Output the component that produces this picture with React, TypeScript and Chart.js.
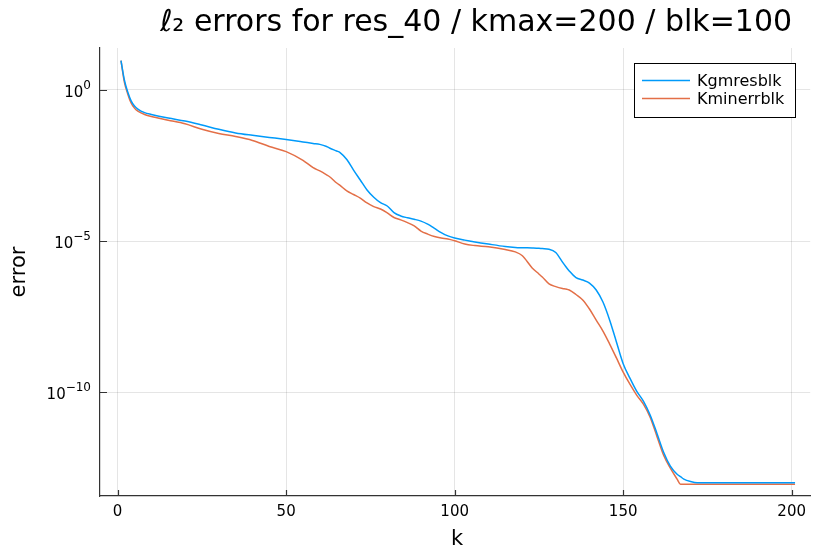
import { useEffect, useRef } from 'react';
import { Chart, registerables } from 'chart.js';

Chart.register(...registerables);

const chartTitle = 'ℓ₂ errors for res_40 / kmax=200 / blk=100';
const xAxisTitle = 'k';
const yAxisTitle = 'error';
const seriesNames = ['Kgmresblk', 'Kminerrblk'];
const seriesColors = ['#009AFA', '#E36F47'];

const kValues = [
  1, 2, 3, 4, 5, 6, 8, 10, 15, 20, 25, 30, 35, 40, 45, 50, 55, 58, 60, 62, 63, 65, 66, 68, 70,
  72, 74, 76, 78, 80, 82, 84, 86, 88, 90, 92, 94, 96, 98, 100, 103, 106, 110, 115, 118, 120,
  123, 125, 126, 128, 130, 132, 133, 134, 136, 138, 140, 142, 144, 146, 148, 150, 152, 154,
  156, 158, 160, 162, 164, 166, 167, 168, 170, 172, 180, 190, 201,
];

// log10 of the error
const kgmresLog10 = [
  0.97, 0.33, -0.07, -0.36, -0.53, -0.63, -0.75, -0.81, -0.93, -1.03, -1.16, -1.3, -1.42, -1.5,
  -1.57, -1.64, -1.72, -1.77, -1.8, -1.87, -1.93, -2.02, -2.07, -2.3, -2.65, -2.98, -3.31, -3.55,
  -3.73, -3.84, -4.06, -4.17, -4.23, -4.28, -4.34, -4.44, -4.58, -4.72, -4.83, -4.9, -4.97,
  -5.03, -5.1, -5.18, -5.21, -5.22, -5.23, -5.24, -5.25, -5.27, -5.38, -5.7, -5.85, -5.99,
  -6.21, -6.29, -6.39, -6.62, -7.02, -7.62, -8.34, -9.06, -9.54, -9.97, -10.3, -10.76, -11.36,
  -11.99, -12.45, -12.72, -12.8, -12.88, -12.96, -13.0, -13.0, -13.0, -13.0,
];

const kminerrLog10 = [
  0.97, 0.26, -0.13, -0.43, -0.6, -0.7, -0.81, -0.88, -1.0, -1.12, -1.3, -1.44, -1.54, -1.67,
  -1.87, -2.04, -2.33, -2.57, -2.68, -2.81, -2.88, -3.08, -3.16, -3.34, -3.46, -3.58, -3.74,
  -3.86, -3.94, -4.07, -4.22, -4.3, -4.39, -4.5, -4.67, -4.77, -4.85, -4.9, -4.93, -4.99, -5.1,
  -5.15, -5.19, -5.28, -5.36, -5.48, -5.89, -6.09, -6.19, -6.42, -6.51, -6.57, -6.59, -6.62,
  -6.77, -6.95, -7.25, -7.62, -7.98, -8.41, -8.87, -9.34, -9.74, -10.1, -10.4, -10.83, -11.46,
  -12.09, -12.52, -12.88, -13.05, -13.05, -13.05, -13.05, -13.05, -13.05, -13.05,
];

const xTickValues = [0, 50, 100, 150, 200];
const yTickValues = [1e-10, 1e-5, 1];
const yTickExponents = ['−10', '−5', '0'];

const FONT = "'DejaVu Sans', sans-serif";

export default function App() {
  const canvasRef = useRef<HTMLCanvasElement | null>(null);

  useEffect(() => {
    const canvas = canvasRef.current;
    if (!canvas) return;

    const decorPlugin = {
      id: 'decor',
      afterDraw(chart: any) {
        const ctx = chart.ctx as CanvasRenderingContext2D;
        const area = chart.chartArea;
        const xs = chart.scales.x;
        const ys = chart.scales.y;
        ctx.save();
        // inward tick marks
        ctx.strokeStyle = '#333';
        ctx.lineWidth = 1.2;
        ctx.beginPath();
        xTickValues.forEach((v) => {
          const px = Math.round(xs.getPixelForValue(v)) + 0.5;
          ctx.moveTo(px, area.bottom);
          ctx.lineTo(px, area.bottom - 6);
        });
        yTickValues.forEach((v) => {
          const py = Math.round(ys.getPixelForValue(v)) + 0.5;
          ctx.moveTo(area.left, py);
          ctx.lineTo(area.left + 7, py);
        });
        ctx.stroke();

        // y tick labels: 10 with raised exponent
        ctx.fillStyle = '#000';
        ctx.textBaseline = 'alphabetic';
        yTickValues.forEach((v, i) => {
          const py = ys.getPixelForValue(v);
          const right = area.left - 9;
          ctx.font = `12px ${FONT}`;
          const ew = ctx.measureText(yTickExponents[i]).width;
          ctx.textAlign = 'left';
          ctx.fillText(yTickExponents[i], right - ew, py - 1);
          ctx.font = `15px ${FONT}`;
          ctx.textAlign = 'right';
          ctx.fillText('10', right - ew, py + 7);
        });

        // title
        ctx.fillStyle = '#000';
        ctx.font = `30px ${FONT}`;
        ctx.textAlign = 'center';
        ctx.textBaseline = 'middle';
        ctx.fillText(chartTitle, 476, 23);

        // axis titles
        ctx.font = `21px ${FONT}`;
        ctx.fillText(xAxisTitle, 457, 540);
        ctx.save();
        ctx.translate(20, (area.top + area.bottom) / 2);
        ctx.rotate(-Math.PI / 2);
        ctx.fillText(yAxisTitle, 0, 0);
        ctx.restore();

        // legend
        const lx = 634.5, ly = 63.5, lw = 161, lh = 54;
        ctx.fillStyle = '#fff';
        ctx.fillRect(lx, ly, lw, lh);
        ctx.strokeStyle = '#000';
        ctx.lineWidth = 1;
        ctx.strokeRect(lx, ly, lw, lh);
        ctx.font = `16px ${FONT}`;
        ctx.textAlign = 'left';
        ctx.textBaseline = 'middle';
        chart.data.datasets.forEach((ds: any, i: number) => {
          const yy = 80.5 + i * 18;
          ctx.strokeStyle = ds.borderColor;
          ctx.lineWidth = 1.5;
          ctx.beginPath();
          ctx.moveTo(642, yy);
          ctx.lineTo(690, yy);
          ctx.stroke();
          ctx.fillStyle = '#000';
          ctx.fillText(ds.label, 697, yy + 1);
        });
        ctx.restore();
      },
    };

    const chart = new Chart(canvas, {
      type: 'line',
      data: {
        datasets: [kgmresLog10, kminerrLog10].map((series, i) => ({
          label: seriesNames[i],
          data: kValues.map((k, j) => ({ x: k, y: Math.pow(10, series[j]) })),
          borderColor: seriesColors[i],
          backgroundColor: seriesColors[i],
          borderWidth: 1.5,
          pointRadius: 0,
          cubicInterpolationMode: 'monotone' as const,
          fill: false,
        })),
      },
      options: {
        responsive: false,
        animation: false,
        layout: { padding: { top: 48, left: 0, right: 0, bottom: 0 } },
        plugins: {
          legend: { display: false },
          title: { display: false },
          tooltip: { enabled: false },
        },
        scales: {
          x: {
            type: 'linear',
            min: -5.23,
            max: 205.5,
            afterFit: (s: any) => {
              s.height = 52;
            },
            afterBuildTicks: (s: any) => {
              s.ticks = xTickValues.map((v) => ({ value: v }));
            },
            grid: { color: 'rgba(0,0,0,0.1)', lineWidth: 1, drawTicks: false },
            border: { display: true, color: '#333', width: 1.2 },
            ticks: {
              padding: 7,
              color: '#000',
              font: { family: FONT, size: 15 },
              maxRotation: 0,
              callback: (v: any) => String(v),
            },
            title: { display: false },
          },
          y: {
            type: 'logarithmic',
            min: Math.pow(10, -13.44),
            max: Math.pow(10, 1.39),
            afterFit: (s: any) => {
              s.width = 100;
            },
            afterBuildTicks: (s: any) => {
              s.ticks = yTickValues.map((v) => ({ value: v }));
            },
            grid: { color: 'rgba(0,0,0,0.1)', lineWidth: 1, drawTicks: false },
            border: { display: true, color: '#333', width: 1.2 },
            ticks: { display: false },
            title: { display: false },
          },
        },
      },
      plugins: [decorPlugin],
    } as any);

    return () => {
      chart.destroy();
    };
  }, []);

  return (
    <div style={{ position: 'absolute', left: 0, top: 0, width: 813, height: 548, background: '#fff' }}>
      <canvas ref={canvasRef} width={813} height={548} style={{ display: 'block' }} />
    </div>
  );
}
